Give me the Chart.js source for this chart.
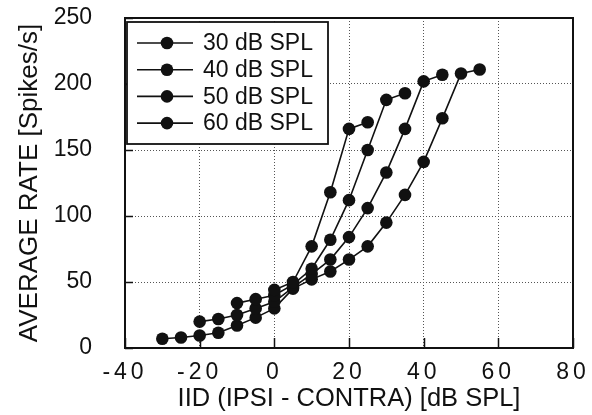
<!DOCTYPE html>
<html><head><meta charset="utf-8">
<script src="https://cdn.jsdelivr.net/npm/chart.js@4"></script>
<style>html,body{margin:0;padding:0;background:#fff}#wrap{width:592px;height:415px}</style>
</head><body><div id="wrap"><canvas id="c" width="592" height="415"></canvas></div>
<script>
const seriesLabels = ['30 dB SPL', '40 dB SPL', '50 dB SPL', '60 dB SPL'];
const iid30 = [0, 5, 10, 15, 20, 25];
const rate30 = [44, 50, 77, 118, 166, 171];
const iid40 = [-10, -5, 0, 5, 10, 15, 20, 25, 30, 35];
const rate40 = [34, 37, 40, 48, 60, 82, 112, 150, 188, 193];
const iid50 = [-20, -15, -10, -5, 0, 5, 10, 15, 20, 25, 30, 35, 40, 45];
const rate50 = [20, 22, 25, 30, 35, 46, 56, 67, 84, 106, 133, 166, 202, 207];
const iid60 = [-30, -25, -20, -15, -10, -5, 0, 5, 10, 15, 20, 25, 30, 35, 40, 45, 50, 55];
const rate60 = [7, 8, 9.5, 11.5, 17, 23, 30, 45, 52, 58, 67, 77, 95, 116, 141, 174, 208, 211];
const xTicks = [-40, -20, 0, 20, 40, 60, 80];
const yTicks = [0, 50, 100, 150, 200, 250];
const xTitle = 'IID (IPSI - CONTRA) [dB SPL]';
const yTitle = 'AVERAGE RATE [Spikes/s]';

const FONT = "'Liberation Sans', Arial, Helvetica, sans-serif";
const INK = '#111';
const pairs = [[iid30, rate30], [iid40, rate40], [iid50, rate50], [iid60, rate60]];
const datasets = pairs.map(([xs, ys], i) => ({
  label: seriesLabels[i],
  data: xs.map((x, k) => ({x: x, y: ys[k]})),
  showLine: true,
  borderColor: INK,
  backgroundColor: INK,
  borderWidth: 1.6,
  pointRadius: 6.3,
  pointHoverRadius: 6.3,
  pointBackgroundColor: INK,
  pointBorderColor: INK,
  pointBorderWidth: 0
}));

const decor = {
  id: 'decor',
  beforeDraw(chart) {
    const xs = chart.scales.x;
    if (!xs._patched) {
      const orig = xs.drawLabels.bind(xs);
      xs.drawLabels = function (ca) {
        const c = chart.ctx;
        c.save();
        c.letterSpacing = '4px';
        orig(ca);
        c.restore();
      };
      xs._patched = true;
    }
    const c = chart.ctx;
    c.save();
    c.fillStyle = '#fff';
    c.fillRect(0, 0, chart.width, chart.height);
    c.restore();
  },
  afterDraw(chart) {
    const c = chart.ctx;
    const a = chart.chartArea;
    const xs = chart.scales.x, ys = chart.scales.y;
    c.save();
    c.strokeStyle = INK;
    c.lineWidth = 2;
    c.beginPath();
    c.moveTo(a.left, a.top);
    c.lineTo(a.right, a.top);
    c.lineTo(a.right, a.bottom);
    c.stroke();
    c.lineWidth = 1.5;
    c.beginPath();
    xTicks.forEach(v => {
      const p = Math.round(xs.getPixelForValue(v)) + 0.5;
      c.moveTo(p, a.bottom);
      c.lineTo(p, a.bottom - 10);
    });
    yTicks.forEach(v => {
      const p = Math.round(ys.getPixelForValue(v)) + 0.5;
      c.moveTo(a.left, p);
      c.lineTo(a.left + 8, p);
    });
    c.stroke();
    const bx = a.left + 2, by = a.top + 4, bw = 201, bh = 122;
    c.fillStyle = '#fff';
    c.fillRect(bx, by, bw, bh);
    c.lineWidth = 1.8;
    c.strokeStyle = INK;
    c.strokeRect(bx, by, bw, bh);
    c.font = '23px ' + FONT;
    c.textAlign = 'left';
    c.textBaseline = 'middle';
    chart.data.datasets.forEach((ds, i) => {
      const y = by + 21 + i * 26.7;
      c.strokeStyle = ds.borderColor;
      c.lineWidth = 1.6;
      c.beginPath();
      c.moveTo(bx + 10, y);
      c.lineTo(bx + 66, y);
      c.stroke();
      c.fillStyle = ds.pointBackgroundColor;
      c.beginPath();
      c.arc(bx + 40, y, 6.3, 0, Math.PI * 2);
      c.fill();
      c.fillStyle = INK;
      c.fillText(ds.label, bx + 76, y + 1);
    });
    c.restore();
  }
};

new Chart(document.getElementById('c'), {
  type: 'scatter',
  data: {datasets: datasets},
  options: {
    responsive: false,
    animation: false,
    events: [],
    layout: {padding: {left: 0, right: 19, top: 18, bottom: 0}},
    plugins: {legend: {display: false}, tooltip: {enabled: false}},
    scales: {
      x: {
        type: 'linear', min: -40, max: 80,
        afterBuildTicks: s => { s.ticks = xTicks.map(v => ({value: v})); },
        afterFit: s => { s.height = 67; s.paddingLeft = 0; s.paddingRight = 0; },
        grid: {color: '#555', lineWidth: 1, drawTicks: false},
        border: {display: true, color: INK, width: 2, dash: [1, 2]},
        ticks: {font: {family: FONT, size: 23}, color: INK, padding: 11, maxRotation: 0, autoSkip: false},
        title: {display: true, text: xTitle, color: INK, font: {family: FONT, size: 25.5}, padding: {top: 0, bottom: 1}}
      },
      y: {
        type: 'linear', min: 0, max: 250,
        afterBuildTicks: s => { s.ticks = yTicks.map(v => ({value: v})); },
        afterFit: s => { s.width = 125; s.paddingTop = 0; s.paddingBottom = 0; },
        grid: {color: '#555', lineWidth: 1, drawTicks: false},
        border: {display: true, color: INK, width: 2, dash: [1, 2]},
        ticks: {font: {family: FONT, size: 23}, color: INK, padding: 33, autoSkip: false},
        title: {display: true, text: yTitle, color: INK, font: {family: FONT, size: 26}, padding: {top: 14, bottom: 0}}
      }
    }
  },
  plugins: [decor]
});
</script>
</body></html>
